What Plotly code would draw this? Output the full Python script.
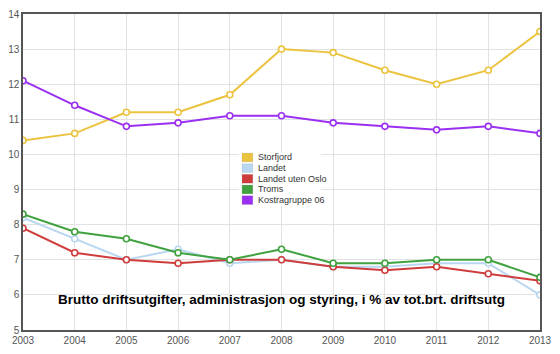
import plotly.graph_objects as go

years = [2003, 2004, 2005, 2006, 2007, 2008, 2009, 2010, 2011, 2012, 2013]
series_names = ["Storfjord", "Landet", "Landet uten Oslo", "Troms", "Kostragruppe 06"]
storfjord = [10.4, 10.6, 11.2, 11.2, 11.7, 13.0, 12.9, 12.4, 12.0, 12.4, 13.5]
landet = [8.2, 7.6, 7.0, 7.3, 6.9, 7.0, 6.8, 6.8, 6.9, 6.9, 6.0]
landet_uten_oslo = [7.9, 7.2, 7.0, 6.9, 7.0, 7.0, 6.8, 6.7, 6.8, 6.6, 6.4]
troms = [8.3, 7.8, 7.6, 7.2, 7.0, 7.3, 6.9, 6.9, 7.0, 7.0, 6.5]
kostragruppe = [12.1, 11.4, 10.8, 10.9, 11.1, 11.1, 10.9, 10.8, 10.7, 10.8, 10.6]
colors = ["#EBC33F", "#B9D7F0", "#CF3C3C", "#3FA23F", "#9B30F2"]
title_text = "Brutto driftsutgifter, administrasjon og styring, i % av tot.brt. driftsutg"

values = [storfjord, landet, landet_uten_oslo, troms, kostragruppe]

fig = go.Figure()
for name, vals, col in zip(series_names, values, colors):
    fig.add_trace(go.Scatter(
        x=years, y=vals, name=name, mode="lines+markers",
        line=dict(color=col, width=2),
        marker=dict(symbol="circle", size=6, color="white", line=dict(color=col, width=1.6)),
        showlegend=False,
    ))

# manual compact legend (paper coordinates)
L, R, T, B = 17, 548, 8, 334
W, H = R - L, B - T
def px(x):
    return (x - L) / W
def py(y):
    return (B - y) / H

shapes = [dict(type="rect", xref="paper", yref="paper", x0=px(239), x1=px(323), y0=py(206), y1=py(151),
               fillcolor="white", line=dict(width=0), layer="above")]
annotations = []
for i, (name, col) in enumerate(zip(series_names, colors)):
    yc = 156 + i * 11
    shapes.append(dict(type="rect", xref="paper", yref="paper", x0=px(242), x1=px(253),
                       y0=py(yc + 4.5), y1=py(yc - 4.5), fillcolor=col,
                       line=dict(color="rgba(0,0,0,0.15)", width=0.5), layer="above"))
    annotations.append(dict(xref="paper", yref="paper", x=px(256), y=py(yc), text=name, showarrow=False,
                            xanchor="left", yanchor="middle", font=dict(family="Liberation Sans, Arial", size=9, color="#333")))

annotations.append(dict(xref="paper", yref="paper", x=px(282), y=py(303), text="<b>" + title_text + "</b>",
                        showarrow=False, xanchor="center", yanchor="middle",
                        font=dict(family="Liberation Sans, Arial", size=13.5, color="black")))

fig.update_layout(
    width=560, height=354,
    margin=dict(l=L, r=560 - R, t=T, b=354 - B),
    paper_bgcolor="white", plot_bgcolor="white",
    shapes=shapes, annotations=annotations,
    font=dict(family="Liberation Sans, Arial", size=10, color="#555"),
)
fig.update_xaxes(range=[2003, 2013], tickmode="array", tickvals=years, ticktext=[str(y) for y in years],
                 showgrid=True, gridcolor="#e2e2e2", gridwidth=1, showline=True, linecolor="#555", linewidth=1.5,
                 mirror=True, ticks="", tickfont=dict(size=10, color="#555"), zeroline=False)
fig.update_yaxes(range=[5, 14], tickmode="array", tickvals=list(range(5, 15)),
                 showgrid=True, gridcolor="#e2e2e2", gridwidth=1, showline=True, linecolor="#555", linewidth=1.5,
                 mirror=True, ticks="", tickfont=dict(size=10, color="#555"), zeroline=False)

fig.write_html("out.html")
